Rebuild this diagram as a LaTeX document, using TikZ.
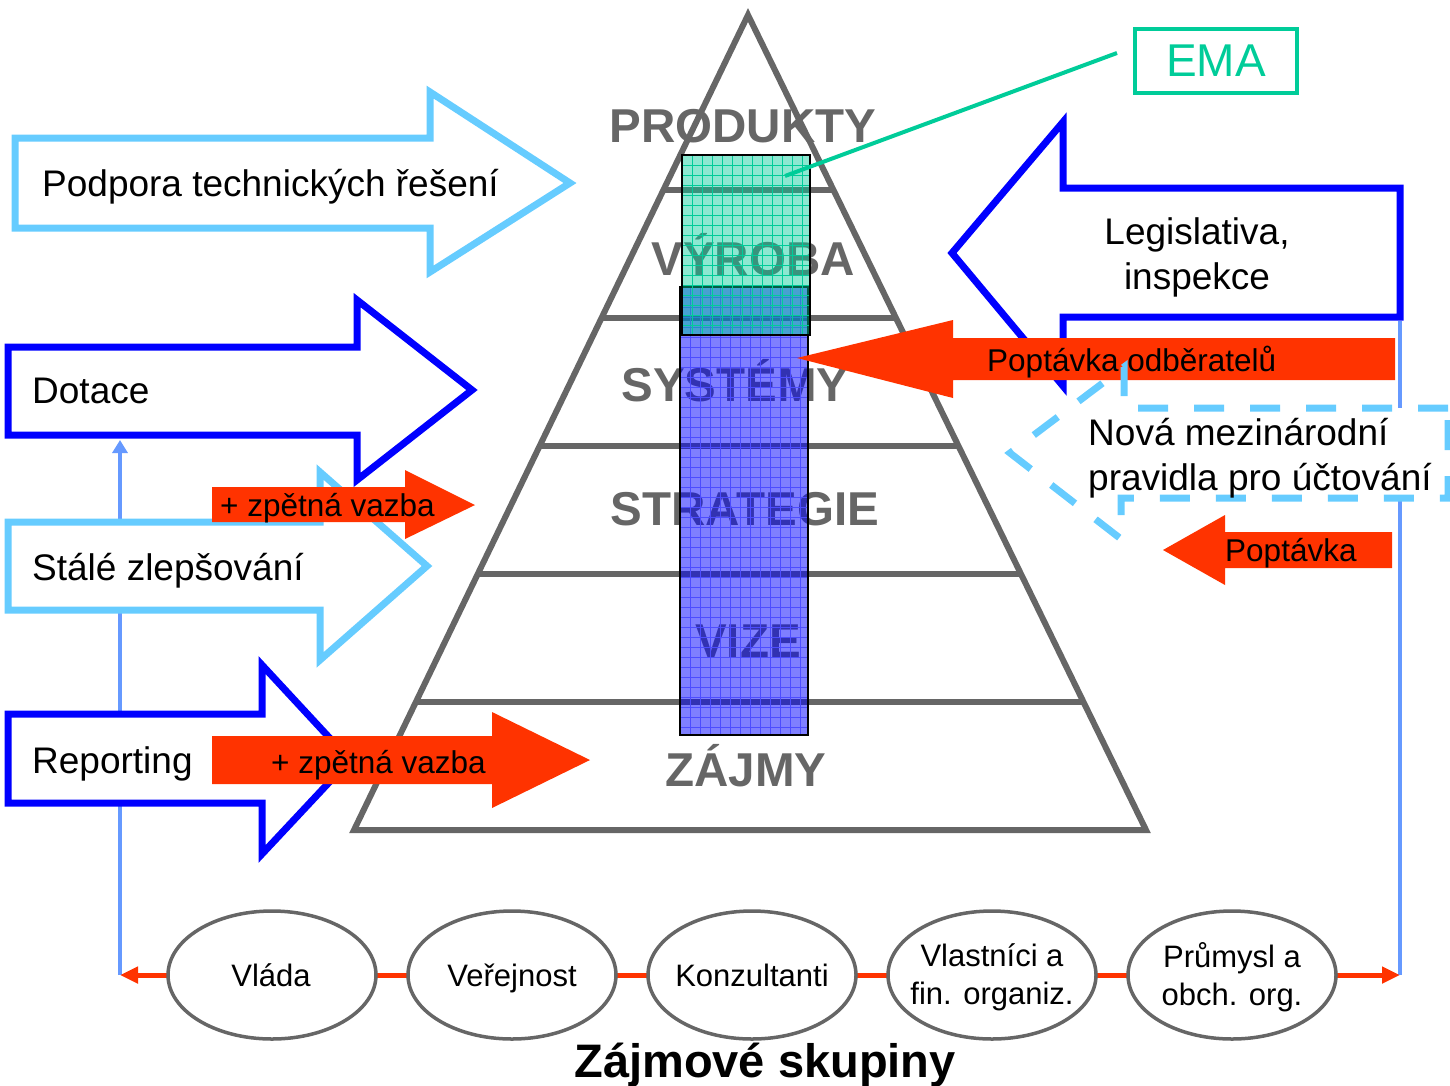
\documentclass[tikz,border=0pt]{standalone}
\usepackage{fontspec}
\setmainfont{Liberation Sans}
\usepackage{xcolor}
\definecolor{pyrgray}{RGB}{102,102,102}
\definecolor{skyline}{RGB}{102,204,255}
\definecolor{deepblue}{RGB}{0,0,255}
\definecolor{flame}{RGB}{255,51,0}
\definecolor{linkblue}{RGB}{102,153,255}
\definecolor{emagreen}{RGB}{0,204,153}
\usepackage{tikz}
\usetikzlibrary{arrows.meta, calc, shapes.geometric}
\tikzset{
  pyrline/.style={draw=pyrgray, line width=6pt},
  pyrlabel/.style={anchor=base, inner sep=0pt, text=pyrgray,
    font=\fontsize{47.5}{50}\selectfont\bfseries},
  lightblock/.style={draw=skyline, fill=white, line width=7pt},
  darkblock/.style={draw=deepblue, fill=white, line width=7pt},
  dashblock/.style={draw=skyline, line width=7pt, dash pattern=on 30pt off 26pt},
  redblock/.style={fill=flame},
  blocktext/.style={anchor=base west, inner sep=0pt, font=\fontsize{37}{45}\selectfont},
  redtext/.style={anchor=base west, inner sep=0pt, font=\fontsize{31.5}{36}\selectfont},
  bluecol/.style={fill=deepblue, fill opacity=0.5},
  greencol/.style={fill=emagreen, fill opacity=0.45},
  colframe/.style={draw=black, line width=2pt},
  emabox/.style={draw=emagreen, line width=4pt, text=emagreen,
    minimum width=162pt, minimum height=64pt, inner sep=0pt,
    font=\fontsize{46}{50}\selectfont},
  emalink/.style={draw=emagreen, line width=4pt},
  linkline/.style={draw=linkblue, line width=3.5pt},
  redlink/.style={draw=flame, line width=5pt,
    {Triangle[length=18pt,width=16pt]}-{Triangle[length=18pt,width=16pt]}},
  stake/.style={ellipse, draw=pyrgray, line width=3.5pt, fill=white,
    minimum width=208pt, minimum height=128pt, inner sep=0pt},
  staketext/.style={inner sep=0pt, align=center, font=\fontsize{31}{38}\selectfont}
}

\begin{document}
\begin{tikzpicture}[x=1pt, y=-1pt]
  \useasboundingbox (0,0) rectangle (1450,1085);

  % stakeholder feedback lines
  \coordinate (lfoot) at (120,975);
  \coordinate (rfoot) at (1400,975);
  \coordinate (dotfoot) at (120,440);
  \coordinate (legfoot) at (1400,321);
  \draw[linkline, -{Triangle[length=13pt,width=15pt]}] (lfoot) -- (dotfoot);
  \draw[linkline] (rfoot) -- (legfoot);

  % pyramid
  \coordinate (apex) at (748,15);
  \coordinate (bl) at (354,830);
  \coordinate (br) at (1146,830);
  \draw[pyrline] (apex) -- (br) -- (bl) -- cycle;
  \foreach \t in {0.2147,0.3718,0.5288,0.6859,0.8429}
    \draw[pyrline] ($(apex)!\t!(bl)$) -- ($(apex)!\t!(br)$);
  \node[pyrlabel] (produkty) at (743,142) {PRODUKTY};
  \node[pyrlabel] (vyroba) at (753,275) {VÝROBA};
  \node[pyrlabel] (systemy) at (735,401) {SYSTÉMY};
  \node[pyrlabel] (strategie) at (745,525) {STRATEGIE};
  \node[pyrlabel] (vize) at (748,657) {VIZE};
  \node[pyrlabel] (zajmy) at (746,786) {ZÁJMY};

  % coverage columns
  \fill[bluecol] (680,287) rectangle (808,735);
  \foreach \gx in {690,700,...,800}
    \draw[deepblue!70, line width=0.9pt] (\gx,287) -- (\gx,735);
  \foreach \gy in {297,307,...,727}
    \draw[deepblue!70, line width=0.9pt] (680,\gy) -- (808,\gy);
  \draw[colframe] (680,287) rectangle (808,735);
  \fill[greencol] (682,155) rectangle (810,335);
  \foreach \gx in {692,702,...,802}
    \draw[emagreen, line width=0.9pt] (\gx,155) -- (\gx,335);
  \foreach \gy in {165,175,...,325}
    \draw[emagreen, line width=0.9pt] (682,\gy) -- (810,\gy);
  \draw[colframe] (682,155) rectangle (810,335);

  % EMA
  \node[emabox] (ema) at (1216,61) {EMA};
  \coordinate (emapin) at (785,176);
  \draw[emalink] ([shift={(-16pt,8pt)}]ema.west) -- (emapin);

  % left block arrows
  \draw[lightblock] (15,138) -- (430,138) -- (430,92) -- (570,183)
    -- (430,272) -- (430,228) -- (15,228) -- cycle;
  \node[blocktext] (podpora) at (42,196) {Podpora technických řešení};
  \draw[darkblock] (8,347) -- (357,347) -- (357,300) -- (472,390)
    -- (357,480) -- (357,435) -- (8,435) -- cycle;
  \node[blocktext] (dotace) at (32,403) {Dotace};
  \draw[lightblock] (8,522) -- (320,522) -- (320,472) -- (427,566)
    -- (320,660) -- (320,610) -- (8,610) -- cycle;
  \node[blocktext] (zlepsovani) at (32,580) {Stálé zlepšování};
  \fill[redblock] (212,487) -- (405,487) -- (405,470) -- (475,505)
    -- (405,539) -- (405,522) -- (212,522) -- cycle;
  \node[redtext] (vazbaA) at (220,516) {+ zpětná vazba};
  \draw[darkblock] (8,714) -- (262,714) -- (262,665) -- (350,760)
    -- (262,854) -- (262,803) -- (8,803) -- cycle;
  \node[blocktext] (reporting) at (32,773) {Reporting};
  \fill[redblock] (212,736) -- (492,736) -- (492,712) -- (590,760)
    -- (492,808) -- (492,784) -- (212,784) -- cycle;
  \node[redtext] (vazbaB) at (271,773) {+ zpětná vazba};

  % right block arrows
  \draw[darkblock] (1400,188) -- (1063,188) -- (1063,122) -- (952,253)
    -- (1063,386) -- (1063,317) -- (1400,317) -- cycle;
  \node[blocktext, anchor=center, align=center] (legislativa) at (1197,257)
    {Legislativa,\\inspekce};
  \fill[white] (1448,408) -- (1124,408) -- (1124,367) -- (1010,453)
    -- (1121,539) -- (1121,498) -- (1448,498) -- cycle;
  \fill[redblock] (1395,338) -- (953,338) -- (953,320) -- (797,358)
    -- (953,398) -- (953,380) -- (1395,380) -- cycle;
  \node[redtext] (odberatele) at (987,371) {Poptávka odběratelů};
  \draw[dashblock] (1448,408) -- (1124,408) -- (1124,367) -- (1010,453)
    -- (1121,539) -- (1121,498) -- (1448,498) -- cycle;
  \node[blocktext, anchor=west, align=left] (pravidla) at (1088,458)
    {Nová mezinárodní\\pravidla pro účtování};
  \fill[redblock] (1392,532) -- (1225,532) -- (1225,515) -- (1163,550)
    -- (1225,585) -- (1225,568) -- (1392,568) -- cycle;
  \node[redtext] (poptavka) at (1225,561) {Poptávka};

  % interest groups
  \draw[redlink] (lfoot) -- (rfoot);
  \node[stake] (vlada) at (272,975) {};
  \node[stake] (verejnost) at (512,975) {};
  \node[stake] (konzultanti) at (752,975) {};
  \node[stake] (vlastnici) at (992,975) {};
  \node[stake] (prumysl) at (1232,975) {};
  \node[staketext, anchor=base] (vladatxt) at (271,986) {Vláda};
  \node[staketext, anchor=base] (verejnosttxt) at (512,986) {Veřejnost};
  \node[staketext, anchor=base] (konzultantitxt) at (752,986) {Konzultanti};
  \node[staketext] (vlastnicitxt) at (992,977) {Vlastníci a\\fin. organiz.};
  \node[staketext] (prumysltxt) at (1232,977) {Průmysl a\\obch. org.};
  \node[anchor=base, inner sep=0pt, font=\fontsize{47}{50}\selectfont\bfseries]
    (skupiny) at (765,1077) {Zájmové skupiny};
\end{tikzpicture}
\end{document}
